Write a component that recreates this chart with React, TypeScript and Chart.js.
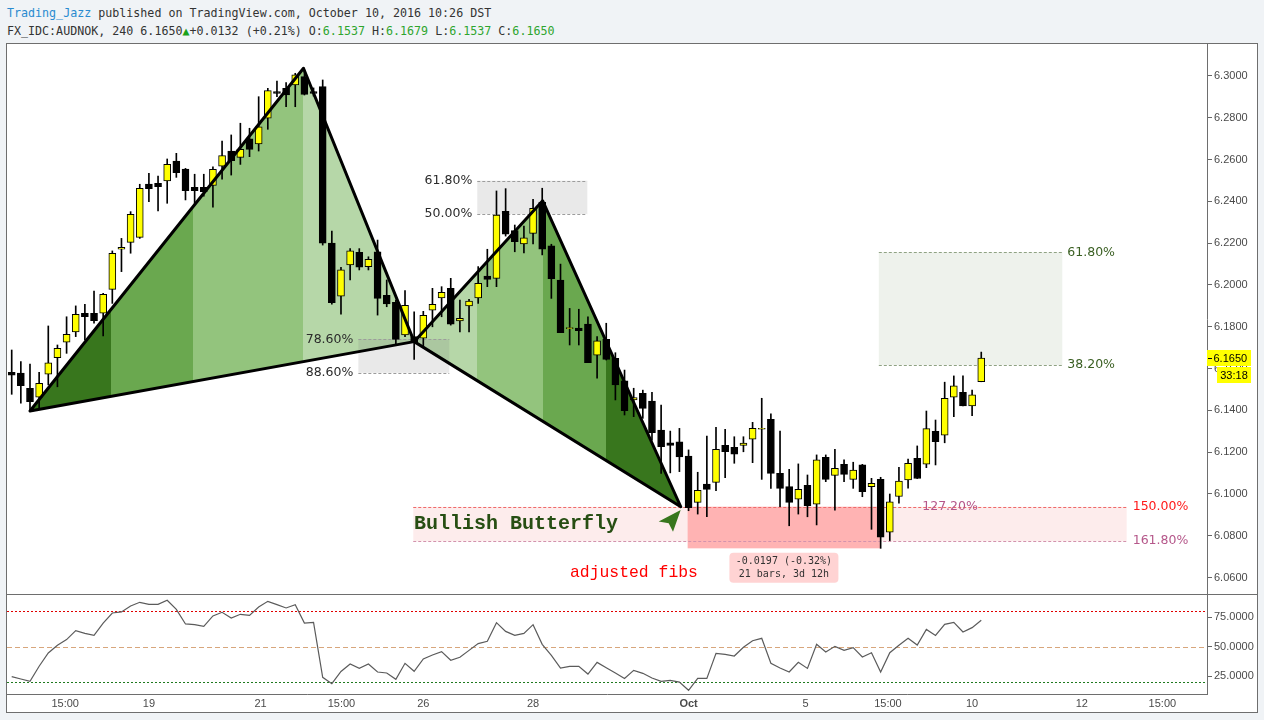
import React, { useEffect, useRef } from 'react';
import { Chart, registerables } from 'chart.js';

Chart.register(...registerables);

// ---------------- data (AUDNOK, 240 min candles) ----------------
const opens = [
  6.1582, 6.1578, 6.1506, 6.1463, 6.1573, 6.1652, 6.1726, 6.1776, 6.1865, 6.1865,
  6.1865, 6.1979, 6.2171, 6.2204, 6.2228, 6.2483, 6.2487, 6.2498, 6.2593, 6.2555,
  6.2467, 6.2467, 6.2477, 6.2569, 6.2641, 6.2611, 6.2699, 6.2675, 6.2798, 6.2925,
  6.2941, 6.2957, 6.2997, 6.2925, 6.2949, 6.2200, 6.1947, 6.2096, 6.2156, 6.2088,
  6.2159, 6.1951, 6.1917, 6.1761, 6.1753, 6.1745, 6.1880, 6.1938, 6.1984, 6.1828,
  6.1900, 6.1938, 6.2043, 6.2032, 6.2353, 6.2260, 6.2196, 6.2247, 6.2396, 6.2187,
  6.2024, 6.1791, 6.1794, 6.1813, 6.1664, 6.1740, 6.1649, 6.1541, 6.1450, 6.1482,
  6.1445, 6.1306, 6.1245, 6.1250, 6.1182, 6.0960, 6.1048, 6.1056, 6.1233, 6.1223,
  6.1233, 6.1262, 6.1310, 6.1357, 6.1099, 6.1035, 6.0975, 6.1042, 6.0951, 6.1176,
  6.1089, 6.1142, 6.1070, 6.1139, 6.1035, 6.1070, 6.0817, 6.0988, 6.1067, 6.1171,
  6.1143, 6.1300, 6.1281, 6.1463, 6.1486, 6.1421, 6.1537,
];
const highs = [
  6.1689, 6.1633, 6.1622, 6.1582, 6.1804, 6.1713, 6.1848, 6.1900, 6.1908, 6.1971,
  6.1960, 6.2163, 6.2223, 6.2351, 6.2482, 6.2534, 6.2521, 6.2603, 6.2630, 6.2558,
  6.2530, 6.2530, 6.2566, 6.2689, 6.2718, 6.2774, 6.2750, 6.2901, 6.2941, 6.2976,
  6.2968, 6.3013, 6.3029, 6.2943, 6.2981, 6.2258, 6.2085, 6.2174, 6.2174, 6.2135,
  6.2215, 6.2024, 6.1928, 6.1973, 6.1872, 6.1874, 6.1984, 6.1992, 6.2032, 6.1928,
  6.1932, 6.2088, 6.2171, 6.2450, 6.2461, 6.2287, 6.2282, 6.2410, 6.2463, 6.2195,
  6.2100, 6.1888, 6.1884, 6.1848, 6.1753, 6.1817, 6.1676, 6.1593, 6.1506, 6.1497,
  6.1487, 6.1426, 6.1301, 6.1314, 6.1211, 6.1104, 6.1277, 6.1319, 6.1309, 6.1274,
  6.1274, 6.1343, 6.1458, 6.1383, 6.1301, 6.1118, 6.1144, 6.1091, 6.1187, 6.1187,
  6.1214, 6.1163, 6.1152, 6.1142, 6.1075, 6.1080, 6.1000, 6.1128, 6.1167, 6.1230,
  6.1397, 6.1354, 6.1535, 6.1565, 6.1565, 6.1497, 6.1679,
];
const lows = [
  6.1477, 6.1434, 6.1402, 6.1405, 6.1522, 6.1513, 6.1673, 6.1753, 6.1737, 6.1817,
  6.1756, 6.1912, 6.2064, 6.2152, 6.2223, 6.2399, 6.2355, 6.2391, 6.2515, 6.2407,
  6.2391, 6.2425, 6.2372, 6.2506, 6.2526, 6.2577, 6.2614, 6.2641, 6.2745, 6.2901,
  6.2853, 6.2853, 6.2909, 6.2904, 6.2191, 6.1908, 6.1861, 6.2024, 6.2072, 6.2072,
  6.1856, 6.1896, 6.1713, 6.1753, 6.1644, 6.1708, 6.1800, 6.1848, 6.1808, 6.1776,
  6.1776, 6.1912, 6.1992, 6.1992, 6.2234, 6.2159, 6.2154, 6.2196, 6.2144, 6.1936,
  6.1772, 6.1713, 6.1713, 6.1628, 6.1554, 6.1641, 6.1450, 6.1378, 6.1370, 6.1362,
  6.1258, 6.1099, 6.1101, 6.1107, 6.0920, 6.0904, 6.0891, 6.1016, 6.1078, 6.1147,
  6.1202, 6.1150, 6.1070, 6.1027, 6.0939, 6.0848, 6.0904, 6.0891, 6.0852, 6.1059,
  6.0923, 6.1059, 6.1027, 6.0987, 6.0831, 6.0740, 6.0777, 6.0956, 6.1028, 6.1074,
  6.1126, 6.1139, 6.1245, 6.1370, 6.1422, 6.1375, 6.1537,
];
const closes = [
  6.1569, 6.1518, 6.1442, 6.1530, 6.1628, 6.1697, 6.1764, 6.1860, 6.1848, 6.1829,
  6.1955, 6.2152, 6.2180, 6.2338, 6.2463, 6.2461, 6.2470, 6.2577, 6.2537, 6.2451,
  6.2451, 6.2446, 6.2554, 6.2619, 6.2595, 6.2649, 6.2649, 6.2757, 6.2930, 6.2917,
  6.2909, 6.3005, 6.2912, 6.2917, 6.2200, 6.1915, 6.2072, 6.2164, 6.2085, 6.2123,
  6.1936, 6.1909, 6.1740, 6.1903, 6.1724, 6.1855, 6.1908, 6.1965, 6.1813, 6.1841,
  6.1923, 6.2008, 6.2027, 6.2335, 6.2243, 6.2207, 6.2226, 6.2367, 6.2172, 6.2030,
  6.1772, 6.1796, 6.1781, 6.1628, 6.1733, 6.1644, 6.1522, 6.1399, 6.1461, 6.1410,
  6.1293, 6.1226, 6.1233, 6.1178, 6.0934, 6.1018, 6.1022, 6.1214, 6.1202, 6.1190,
  6.1244, 6.1314, 6.1314, 6.1099, 6.1027, 6.0960, 6.1022, 6.0944, 6.1163, 6.1070,
  6.1123, 6.1094, 6.1115, 6.1011, 6.1051, 6.0793, 6.0963, 6.1062, 6.1147, 6.1074,
  6.1313, 6.1250, 6.1458, 6.1517, 6.1422, 6.1474, 6.1650,
];
const rsiValues = [
  24.6, 22.6, 20.6, 33.4, 44.7, 51.3, 56.0, 63.6, 61.3, 59.6,
  70.1, 78.6, 79.5, 84.6, 87.7, 86.0, 86.0, 89.4, 81.7, 69.3,
  68.7, 67.3, 76.1, 79.2, 74.4, 77.5, 76.6, 83.7, 88.5, 85.7,
  82.9, 85.7, 70.1, 70.7, 24.0, 18.6, 29.0, 35.3, 31.6, 35.3,
  28.5, 27.7, 22.3, 35.9, 29.1, 39.6, 43.0, 45.8, 38.5, 41.0,
  46.9, 52.6, 54.6, 70.4, 63.0, 59.6, 61.3, 68.7, 52.0, 42.7,
  31.9, 33.3, 33.3, 26.8, 36.7, 32.2, 27.7, 23.1, 29.9, 27.4,
  23.4, 20.6, 21.4, 20.0, 13.0, 23.1, 23.1, 44.4, 43.5, 42.1,
  49.5, 55.1, 57.1, 35.9, 31.9, 28.5, 36.7, 31.6, 52.0, 45.5,
  50.3, 46.9, 49.2, 41.3, 44.9, 28.5, 44.9, 51.2, 57.1, 51.4,
  64.7, 59.6, 69.0, 70.7, 62.5, 66.2, 72.4,
];

const priceTicks = [6.06, 6.08, 6.10, 6.12, 6.14, 6.16, 6.18, 6.20, 6.22, 6.24, 6.26, 6.28, 6.30];
const rsiTicks = [25, 50, 75];
const rsiLevels = [80, 50, 20];
const timeTickPos = [5.85, 15, 27.2, 36.05, 45, 57, 74, 86.8, 95.8, 105, 117, 125.8];
const timeTickLabels = ['15:00', '19', '21', '15:00', '26', '28', 'Oct', '5', '15:00', '10', '12', '15:00'];

// XABCD butterfly points (bar index, price)
const patternIndex = [2.0, 31.9, 44.0, 58.05, 73.15];
const patternPrice = [6.1397, 6.3037, 6.1729, 6.2403, 6.0939];
const bandsXAB = [10.86, 19.82];
const bandsBCD = [50.87, 64.97];

const fibLabelsB = ['78.60%', '88.60%'];
const fibLabelsC = ['61.80%', '50.00%'];
const fibLabelsTarget = ['61.80%', '38.20%'];
const fibLabelsZone = ['150.00%', '161.80%', '127.20%'];
const measureLines = ['-0.0197 (-0.32%)', '21 bars, 3d 12h'];
const countdown = '33:18';
const patternTitle = 'Bullish Butterfly';
const noteText = 'adjusted fibs';

// ---------------- layout / style ----------------
const X_MIN = -0.514;
const X_MAX = 130.68;
const P_MIN = 6.052153;
const P_MAX = 6.315311;
const R_MIN = 9.85;
const R_MAX = 93.89;

const G_DARK = '#38761d';
const G_MID = '#6aa84f';
const G_LIGHT = '#93c47d';
const G_PALE = '#b6d7a8';
const UP = '#ffff00';
const DOWN = '#000000';
const AXIS = '#6e6e6e';
const TICK_FONT = { family: '"Liberation Sans", Arial, sans-serif', size: 11 };

const boxes = [
  { i0: 37.9, i1: 47.84, top: 6.1740, bottom: 6.1580, fill: 'rgba(120,120,120,0.16)', line: '#9c9c9c', labels: fibLabelsB, side: 'left', color: '#2b2b2b' },
  { i0: 50.9, i1: 62.93, top: 6.2499, bottom: 6.2340, fill: 'rgba(120,120,120,0.16)', line: '#9c9c9c', labels: fibLabelsC, side: 'left', color: '#2b2b2b' },
  { i0: 94.8, i1: 114.86, top: 6.2156, bottom: 6.1617, fill: 'rgba(190,205,180,0.26)', line: '#8fa283', labels: fibLabelsTarget, side: 'right', color: '#3a5f22' },
];
const zone = { i0: 43.9, i1: 121.9, top: 6.0939, bottom: 6.0774, labelAt: 99.55 };
const measure = { i0: 73.9, i1: 94.95, top: 6.0939, bottom: 6.0740 };
const titleAt = { i: 43.98, p: 6.0833 };
const noteAt = { i: 61.04, p: 6.0603 };
const arrowAt = { i: 73.14, p: 6.0923 };
const arrowShape = [[0, 0], [-22, 11.5], [-12, 13.2], [-7.7, 21.7]];

function hline(ctx: any, x0: number, x1: number, y: number, color: string, dash: number[]) {
  const yy = Math.round(y) + 0.5;
  ctx.save();
  ctx.strokeStyle = color;
  ctx.lineWidth = 1;
  ctx.setLineDash(dash);
  ctx.beginPath();
  ctx.moveTo(x0, yy);
  ctx.lineTo(x1, yy);
  ctx.stroke();
  ctx.restore();
}

function bandFill(ctx: any, tri: number[][], edges: number[], cols: string[], a: any) {
  ctx.save();
  ctx.beginPath();
  ctx.moveTo(tri[0][0], tri[0][1]);
  ctx.lineTo(tri[1][0], tri[1][1]);
  ctx.lineTo(tri[2][0], tri[2][1]);
  ctx.closePath();
  ctx.clip();
  for (let k = 0; k < cols.length; k++) {
    const l = Math.round(edges[k]);
    const r = Math.round(edges[k + 1]);
    ctx.fillStyle = cols[k];
    ctx.fillRect(l, a.top, r - l, a.bottom - a.top);
  }
  ctx.restore();
}

const drawingsPlugin = {
  id: 'drawings',
  beforeDatasetsDraw(chart: any) {
    const { ctx, chartArea: a } = chart;
    const xs = chart.scales.x;
    const ys = chart.scales.y;
    const px = (v: number) => xs.getPixelForValue(v);
    const py = (v: number) => ys.getPixelForValue(v);
    const P = patternIndex.map((v, k) => [px(v), py(patternPrice[k])]);
    ctx.save();
    ctx.beginPath();
    ctx.rect(a.left, a.top, a.right - a.left, a.bottom - a.top);
    ctx.clip();
    bandFill(ctx, [P[0], P[1], P[2]], [P[0][0], px(bandsXAB[0]), px(bandsXAB[1]), P[1][0], P[2][0]], [G_DARK, G_MID, G_LIGHT, G_PALE], a);
    bandFill(ctx, [P[2], P[3], P[4]], [P[2][0], px(bandsBCD[0]), P[3][0], px(bandsBCD[1]), P[4][0]], [G_PALE, G_LIGHT, G_MID, G_DARK], a);
    for (const b of boxes) {
      const l = px(b.i0), r = px(b.i1), t = py(b.top), bt = py(b.bottom);
      ctx.fillStyle = b.fill;
      ctx.fillRect(l, t, r - l, bt - t);
      hline(ctx, l, r, t, b.line, [3, 2]);
      hline(ctx, l, r, bt, b.line, [3, 2]);
    }
    // target zone
    {
      const l = px(zone.i0), r = px(zone.i1), t = py(zone.top), bt = py(zone.bottom);
      ctx.fillStyle = 'rgba(245,160,160,0.2)';
      ctx.fillRect(l, t, r - l, bt - t);
      const ml = px(measure.i0), mr = px(measure.i1), mt = py(measure.top), mb = py(measure.bottom);
      ctx.fillStyle = '#ffb3b3';
      ctx.fillRect(ml, mt, mr - ml, mb - mt);
      hline(ctx, l, r, t, '#f06a6a', [3, 2]);
      hline(ctx, l, r, bt, '#d393ad', [3, 2]);
    }
    ctx.restore();
  },
  afterDatasetsDraw(chart: any) {
    const { ctx } = chart;
    const xs = chart.scales.x;
    const ys = chart.scales.y;
    const px = (v: number) => xs.getPixelForValue(v);
    const py = (v: number) => ys.getPixelForValue(v);
    const P = patternIndex.map((v, k) => [px(v), py(patternPrice[k])]);
    ctx.save();
    // pattern outline
    ctx.strokeStyle = '#000';
    ctx.lineWidth = 3;
    ctx.lineJoin = 'round';
    ctx.lineCap = 'round';
    for (const tri of [[P[0], P[1], P[2]], [P[2], P[3], P[4]]]) {
      ctx.beginPath();
      ctx.moveTo(tri[0][0], tri[0][1]);
      ctx.lineTo(tri[1][0], tri[1][1]);
      ctx.lineTo(tri[2][0], tri[2][1]);
      ctx.closePath();
      ctx.stroke();
    }
    // fib labels
    ctx.font = '12.5px "DejaVu Sans", Verdana, sans-serif';
    ctx.textBaseline = 'middle';
    for (const b of boxes) {
      ctx.fillStyle = b.color;
      let x;
      if (b.side === 'left') { ctx.textAlign = 'right'; x = px(b.i0) - 5; }
      else { ctx.textAlign = 'left'; x = px(b.i1) + 5; }
      ctx.fillText(b.labels[0], x, py(b.top));
      ctx.fillText(b.labels[1], x, py(b.bottom));
    }
    ctx.textAlign = 'left';
    ctx.fillStyle = '#ff1a1a';
    ctx.fillText(fibLabelsZone[0], px(zone.i1) + 6, py(zone.top));
    ctx.fillStyle = '#b5578a';
    ctx.fillText(fibLabelsZone[1], px(zone.i1) + 6, py(zone.bottom));
    ctx.fillText(fibLabelsZone[2], px(zone.labelAt), py(zone.top));
    // title and note
    ctx.textBaseline = 'alphabetic';
    ctx.font = 'bold 20px "Liberation Mono", "Courier New", monospace';
    ctx.fillStyle = '#274e13';
    ctx.fillText(patternTitle, px(titleAt.i), py(titleAt.p));
    ctx.font = '16.4px "Liberation Mono", "Courier New", monospace';
    ctx.fillStyle = '#ff0000';
    ctx.fillText(noteText, px(noteAt.i), py(noteAt.p));
    // arrow
    const tx = px(arrowAt.i), ty = py(arrowAt.p);
    ctx.fillStyle = G_DARK;
    ctx.beginPath();
    arrowShape.forEach(([dx, dy], k) => (k ? ctx.lineTo(tx + dx, ty + dy) : ctx.moveTo(tx + dx, ty + dy)));
    ctx.closePath();
    ctx.fill();
    // measure label
    const cx = px((measure.i0 + measure.i1) / 2);
    const top = py(measure.bottom) + 4.4;
    const w = 109, h = 30;
    ctx.fillStyle = '#ffd3d3';
    ctx.beginPath();
    ctx.roundRect(cx - w / 2, top, w, h, 4);
    ctx.fill();
    ctx.fillStyle = '#333';
    ctx.font = '10px "DejaVu Sans Mono", monospace';
    ctx.textAlign = 'center';
    ctx.textBaseline = 'middle';
    ctx.fillText(measureLines[0], cx, top + 8.5);
    ctx.fillText(measureLines[1], cx, top + 21.5);
    ctx.restore();
  },
  afterDraw(chart: any) {
    const { ctx } = chart;
    const ys = chart.scales.y;
    const last = closes[closes.length - 1];
    const yv = Math.round(ys.getPixelForValue(last));
    const left = ys.left;
    ctx.save();
    ctx.fillStyle = '#ffff00';
    ctx.fillRect(left, yv - 8, 44, 16);
    ctx.fillRect(left + 10, yv + 9, 34, 16);
    ctx.fillStyle = '#000';
    ctx.fillRect(left + 1, yv, 4, 1);
    ctx.font = '11px "Liberation Sans", Arial, sans-serif';
    ctx.textBaseline = 'middle';
    ctx.textAlign = 'left';
    ctx.fillText(last.toFixed(4), left + 6.5, yv + 0.5);
    ctx.textAlign = 'center';
    ctx.fillText(countdown, left + 27, yv + 17.5);
    ctx.restore();
  },
};

const rsiPlugin = {
  id: 'rsiLevels',
  beforeDatasetsDraw(chart: any) {
    const { ctx, chartArea: a } = chart;
    const ys = chart.scales.y;
    const styles = [
      { color: '#e00000', dash: [2, 2] },
      { color: '#d8a67c', dash: [5, 3] },
      { color: '#1f7a1f', dash: [2, 2] },
    ];
    rsiLevels.forEach((lv, k) => hline(ctx, a.left, a.right, ys.getPixelForValue(lv), styles[k].color, styles[k].dash));
  },
};

function priceConfig(): any {
  const bodyColors = opens.map((o, i) => (closes[i] >= o ? UP : DOWN));
  return {
    type: 'bar',
    data: {
      datasets: [
        {
          label: 'wicks',
          data: lows.map((l, i) => ({ x: i, y: [l, highs[i]] })),
          backgroundColor: '#000',
          borderWidth: 0,
          barThickness: 1,
          maxBarThickness: 1,
          barPercentage: 1,
          categoryPercentage: 1,
          grouped: false,
          order: 2,
        },
        {
          label: 'bodies',
          data: opens.map((o, i) => ({ x: i, y: [o, closes[i]] })),
          backgroundColor: bodyColors,
          borderColor: '#000',
          borderWidth: 1,
          borderSkipped: false,
          barThickness: 7,
          maxBarThickness: 7,
          barPercentage: 1,
          categoryPercentage: 1,
          grouped: false,
          order: 1,
        },
      ],
    },
    options: {
      animation: false,
      responsive: false,
      devicePixelRatio: 1,
      events: [],
      layout: { padding: 0, autoPadding: false },
      plugins: { legend: { display: false }, tooltip: { enabled: false } },
      scales: {
        x: { type: 'linear', min: X_MIN, max: X_MAX, display: false, offset: false },
        y: {
          type: 'linear',
          position: 'right',
          min: P_MIN,
          max: P_MAX,
          beginAtZero: false,
          afterBuildTicks: (s: any) => { s.ticks = priceTicks.map((v) => ({ value: v })); },
          afterFit: (s: any) => { s.width = 50; s.paddingTop = 0; s.paddingBottom = 0; },
          ticks: {
            autoSkip: false,
            padding: 2,
            color: '#4a4a4a',
            font: TICK_FONT,
            callback: (v: any) => Number(v).toFixed(4),
          },
          grid: { drawOnChartArea: false, drawTicks: true, tickLength: 5, color: '#666' },
          border: { display: true, color: AXIS },
        },
      },
    },
    plugins: [drawingsPlugin],
  };
}

function rsiConfig(): any {
  return {
    type: 'line',
    data: {
      datasets: [
        {
          label: 'RSI',
          data: rsiValues.map((v, i) => ({ x: i, y: v })),
          borderColor: '#5b5b5b',
          borderWidth: 1.2,
          pointRadius: 0,
          tension: 0,
          fill: false,
        },
      ],
    },
    options: {
      animation: false,
      responsive: false,
      devicePixelRatio: 1,
      events: [],
      layout: { padding: 0, autoPadding: false },
      plugins: { legend: { display: false }, tooltip: { enabled: false } },
      scales: {
        x: {
          type: 'linear',
          min: X_MIN,
          max: X_MAX,
          offset: false,
          afterBuildTicks: (s: any) => { s.ticks = timeTickPos.map((v) => ({ value: v })); },
          afterFit: (s: any) => { s.height = 18; s.paddingLeft = 0; s.paddingRight = 0; },
          ticks: {
            autoSkip: false,
            maxRotation: 0,
            minRotation: 0,
            padding: 3,
            color: '#4a4a4a',
            font: (c: any) => ({ ...TICK_FONT, weight: timeTickLabels[c.index] === 'Oct' ? 'bold' : 'normal' }),
            callback: (_v: any, i: number) => timeTickLabels[i],
          },
          grid: { display: false, drawTicks: false },
          border: { display: true, color: AXIS },
        },
        y: {
          type: 'linear',
          position: 'right',
          min: R_MIN,
          max: R_MAX,
          afterBuildTicks: (s: any) => { s.ticks = rsiTicks.map((v) => ({ value: v })); },
          afterFit: (s: any) => { s.width = 50; s.paddingTop = 0; s.paddingBottom = 0; },
          ticks: {
            autoSkip: false,
            padding: 2,
            color: '#4a4a4a',
            font: TICK_FONT,
            callback: (v: any) => Number(v).toFixed(4),
          },
          grid: { drawOnChartArea: false, drawTicks: true, tickLength: 5, color: '#666' },
          border: { display: true, color: AXIS },
        },
      },
    },
    plugins: [rsiPlugin],
  };
}

export default function App() {
  const priceRef = useRef<HTMLCanvasElement>(null);
  const rsiRef = useRef<HTMLCanvasElement>(null);

  useEffect(() => {
    const c1 = new Chart(priceRef.current as HTMLCanvasElement, priceConfig());
    const c2 = new Chart(rsiRef.current as HTMLCanvasElement, rsiConfig());
    return () => {
      c1.destroy();
      c2.destroy();
    };
  }, []);

  const n = opens.length - 1;
  const green = '#2ea52e';
  const chg = closes[n] - closes[n - 1];
  return (
    <div style={{ position: 'absolute', left: 0, top: 0, width: 1264, height: 720, background: '#f0f3f6', overflow: 'hidden' }}>
      <div
        style={{
          position: 'absolute', left: 7, top: 4, fontFamily: '"DejaVu Sans Mono", monospace', fontSize: '11.67px',
          lineHeight: '18px', color: '#333', whiteSpace: 'pre',
        }}
      >
        <div><span style={{ color: '#2a8bd0' }}>Trading_Jazz</span> published on TradingView.com, October 10, 2016 10:26 DST</div>
        <div>
          FX_IDC:AUDNOK, 240 {closes[n].toFixed(4)}<span style={{ color: '#1aa21a' }}>▲</span>
          {'+0.0132 (+0.21%)'} O:<span style={{ color: green }}>{opens[n].toFixed(4)}</span> H:<span style={{ color: green }}>{highs[n].toFixed(4)}</span> L:<span style={{ color: green }}>{lows[n].toFixed(4)}</span> C:<span style={{ color: green }}>{closes[n].toFixed(4)}</span>
        </div>
      </div>
      <div style={{ position: 'absolute', left: 6, top: 43, width: 1252, height: 670, border: `1px solid ${AXIS}`, background: '#fff', boxSizing: 'border-box' }} />
      <div style={{ position: 'absolute', left: 6, top: 594, width: 1252, height: 1, background: AXIS }} />
      <canvas ref={priceRef} width={1250} height={550} style={{ position: 'absolute', left: 7, top: 44, width: 1250, height: 550 }} />
      <canvas ref={rsiRef} width={1250} height={117} style={{ position: 'absolute', left: 7, top: 595, width: 1250, height: 117 }} />
    </div>
  );
}
